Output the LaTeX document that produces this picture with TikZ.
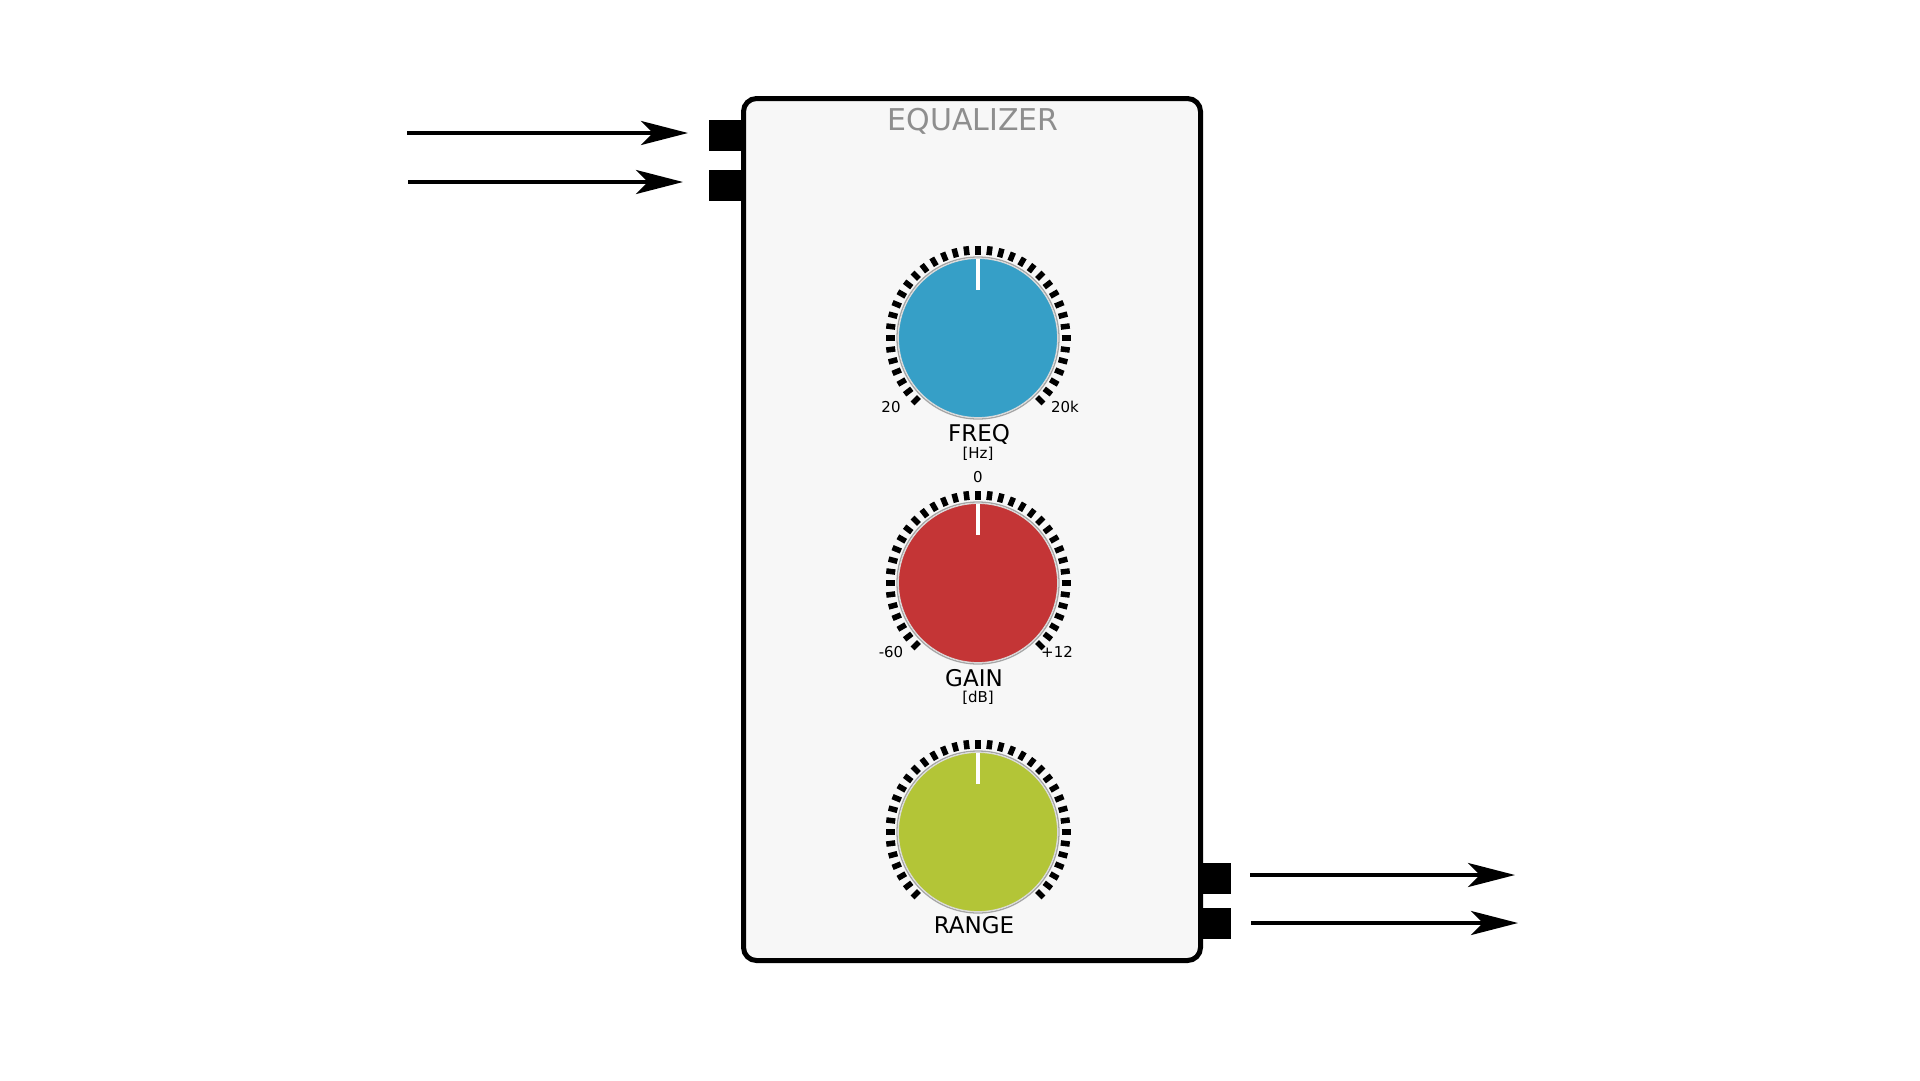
\documentclass[tikz,border=0pt]{standalone}
\usepackage{fontspec}
\setmainfont{DejaVu Sans}
\usetikzlibrary{arrows.meta,calc}
\definecolor{knobblue}{HTML}{369FC7}
\definecolor{knobred}{HTML}{C43536}
\definecolor{knobgreen}{HTML}{B3C537}
\definecolor{panelgray}{HTML}{F7F7F7}
\definecolor{titlegray}{HTML}{8E8E8E}
\tikzset{
  port/.style={fill=black, minimum width=32pt, minimum height=31pt, inner sep=0pt, outer sep=0pt},
  flow/.style={line width=4pt, -{Stealth[length=47pt,width=24pt,inset=12pt]}},
  panel/.style={draw=black, line width=5pt, rounded corners=13pt, fill=panelgray,
    minimum width=457pt, minimum height=862pt, inner sep=0pt},
  knobtick/.style={line width=5.5pt},
  knobring/.style={draw=gray!70, line width=1.3pt},
  knobbody/.style={circle, draw=white!85!black, line width=0.8pt, minimum size=159pt, inner sep=0pt, outer sep=0pt},
  pointer/.style={draw=white, line width=4.5pt},
  scalelabel/.style={font=\fontsize{15}{17}\selectfont, anchor=base, inner sep=0pt},
  knoblabel/.style={font=\fontsize{23}{26}\selectfont, anchor=base, inner sep=0pt},
  unitlabel/.style={font=\fontsize{15}{17}\selectfont, anchor=base, inner sep=0pt},
}
\newcommand\drawknob[4]{%
  \foreach \i in {0,...,36}
    \draw[knobtick] ($(#2,#3)+({225-7.5*\i}:83.5)$) -- ($(#2,#3)+({225-7.5*\i}:92.5)$);
  \draw[knobring] (#2,#3) circle[radius=81];
  \node[knobbody, fill=#4] (#1) at (#2,#3) {};
  \draw[pointer] (#1.north) -- ++(0,-31);
}
\begin{document}
\begin{tikzpicture}[x=1pt,y=1pt]
\useasboundingbox (0,0) rectangle (1920,-1080);
% ports
\node[port] (in1) at (725,-135.5) {};
\node[port] (in2) at (725,-185.5) {};
\node[port] (out1) at (1215,-878.5) {};
\node[port] (out2) at (1215,-923.5) {};
% panel
\node[panel] (eq) at (972,-529.5) {};
\node[anchor=base, text=titlegray, font=\fontsize{30}{36}\selectfont, inner sep=0pt] (title) at (973,-130) {EQUALIZER};
% knobs
\drawknob{freq}{978}{-338}{knobblue}
\drawknob{gainknob}{978}{-583}{knobred}
\drawknob{rangeknob}{978}{-832}{knobgreen}
% labels
\node[scalelabel] (f20) at (891,-412) {20};
\node[scalelabel] (f20k) at (1065,-412) {20k};
\node[knoblabel] (freqlbl) at (979,-441) {FREQ};
\node[unitlabel] (hz) at (978,-458) {[Hz]};
\node[scalelabel] (g0) at (978,-482) {0};
\node[scalelabel] (gm60) at (891,-657) {-60};
\node[scalelabel] (gp12) at (1057,-657) {+12};
\node[knoblabel] (gainlbl) at (974,-686) {GAIN};
\node[unitlabel] (db) at (978,-702) {[dB]};
\node[knoblabel] (rangelbl) at (974,-933) {RANGE};
% arrows
\coordinate (a1) at (407,-133);
\coordinate (a2) at (408,-182);
\coordinate (b1) at (1515,-875);
\coordinate (b2) at (1518,-923);
\draw[flow, shorten >=21pt] (a1) -- (a1 -| in1.west);
\draw[flow, shorten >=26pt] (a2) -- (a2 -| in2.west);
\draw[flow, shorten <=19pt] (b1 -| out1.east) -- (b1);
\draw[flow, shorten <=20pt] (b2 -| out2.east) -- (b2);
\end{tikzpicture}
\end{document}
